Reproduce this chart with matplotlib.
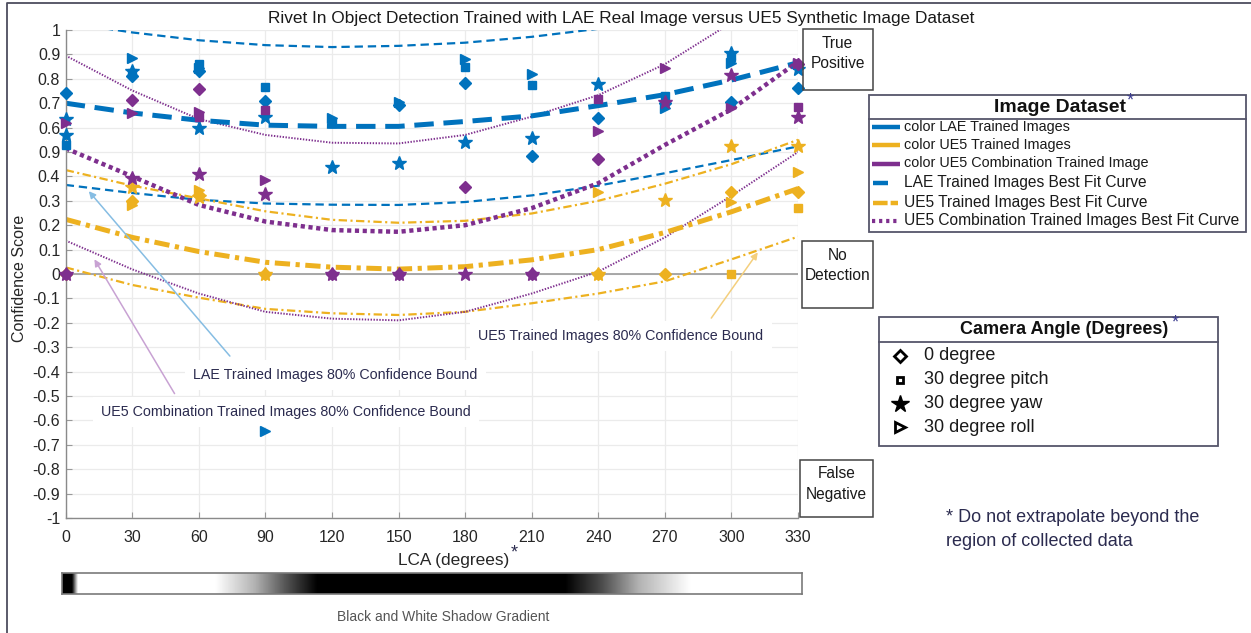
import numpy as np
import matplotlib
matplotlib.use("Agg")
import matplotlib.pyplot as plt
from matplotlib import font_manager
from matplotlib.patches import Rectangle

# ---------------- data ----------------
lca_ticks = [0, 30, 60, 90, 120, 150, 180, 210, 240, 270, 300, 330]
y_ticks = [1, 0.9, 0.8, 0.7, 0.6, 0.5, 0.4, 0.3, 0.2, 0.1, 0,
           -0.1, -0.2, -0.3, -0.4, -0.5, -0.6, -0.7, -0.8, -0.9, -1]
y_tick_labels = ['1', '0.9', '0.8', '0.7', '0.6', '0.9', '0.4', '0.3', '0.2', '0.1', '0',
                 '-0.1', '-0.2', '-0.3', '-0.4', '-0.5', '-0.6', '-0.7', '-0.8', '-0.9', '-1']

# best-fit curves and 80% confidence bounds, read at each LCA tick
fit_x = [0, 30, 60, 90, 120, 150, 180, 210, 240, 270, 300, 330]
lae_fit = [0.70, 0.66, 0.63, 0.61, 0.605, 0.605, 0.625, 0.648, 0.69, 0.735, 0.795, 0.866]
lae_upper = [1.03, 0.99, 0.958, 0.938, 0.93, 0.935, 0.948, 0.972, 1.005, 1.05, 1.11, 1.18]
lae_lower = [0.365, 0.332, 0.304, 0.289, 0.284, 0.283, 0.295, 0.322, 0.362, 0.413, 0.467, 0.523]
ue5_fit = [0.224, 0.15, 0.092, 0.048, 0.028, 0.02, 0.03, 0.058, 0.10, 0.17, 0.255, 0.35]
ue5_upper = [0.426, 0.362, 0.31, 0.257, 0.222, 0.21, 0.218, 0.248, 0.30, 0.37, 0.45, 0.55]
ue5_lower = [0.027, -0.045, -0.097, -0.143, -0.161, -0.168, -0.155, -0.12, -0.08, -0.03, 0.06, 0.153]
combo_fit = [0.515, 0.40, 0.283, 0.215, 0.18, 0.173, 0.20, 0.27, 0.372, 0.529, 0.675, 0.87]
combo_upper = [0.895, 0.752, 0.635, 0.57, 0.538, 0.535, 0.57, 0.645, 0.733, 0.86, 1.03, 1.22]
combo_lower = [0.137, 0.019, -0.08, -0.155, -0.183, -0.19, -0.155, -0.08, 0.01, 0.15, 0.32, 0.50]

# measured confidence scores: LAE trained images
lae_diamond_x = [0, 30, 60, 90, 150, 180, 210, 240, 270, 300, 330]
lae_diamond_y = [0.74, 0.81, 0.833, 0.708, 0.693, 0.784, 0.485, 0.638, 0.70, 0.706, 0.761]
lae_square_x = [0, 30, 60, 90, 120, 180, 210, 270, 300]
lae_square_y = [0.53, 0.825, 0.86, 0.765, 0.617, 0.85, 0.775, 0.73, 0.89]
lae_star_x = [0, 0, 30, 60, 90, 120, 150, 180, 210, 240, 300, 330]
lae_star_y = [0.634, 0.57, 0.833, 0.597, 0.642, 0.44, 0.454, 0.54, 0.559, 0.78, 0.905, 0.839]
lae_tri_x = [30, 60, 90, 120, 150, 180, 210, 270, 300, 330]
lae_tri_y = [0.886, 0.846, -0.645, 0.638, 0.706, 0.881, 0.818, 0.679, 0.866, 0.86]

# UE5 trained images
ue5_diamond_x = [0, 30, 60, 90, 240, 270, 300, 330]
ue5_diamond_y = [0, 0.30, 0.325, 0, 0, 0, 0.337, 0.337]
ue5_square_x = [300, 330]
ue5_square_y = [0, 0.27]
ue5_star_x = [30, 60, 90, 240, 270, 300, 330]
ue5_star_y = [0.358, 0.317, 0, 0, 0.303, 0.525, 0.525]
ue5_tri_x = [30, 60, 240, 300, 330]
ue5_tri_y = [0.283, 0.344, 0.337, 0.296, 0.42]

# UE5 combination trained images
combo_diamond_x = [0, 30, 60, 120, 150, 180, 210, 240, 330]
combo_diamond_y = [0, 0.713, 0.758, 0, 0, 0.355, 0, 0.47, 0.86]
combo_square_x = [60, 90, 240, 330]
combo_square_y = [0.645, 0.672, 0.716, 0.686]
combo_star_x = [0, 30, 60, 90, 120, 150, 180, 210, 270, 300, 330]
combo_star_y = [0, 0.392, 0.41, 0.328, 0, 0, 0, 0, 0.706, 0.816, 0.645]
combo_tri_x = [0, 30, 60, 90, 240, 270, 300, 330]
combo_tri_y = [0.62, 0.66, 0.665, 0.385, 0.586, 0.843, 0.68, 0.866]

dataset_labels = ['color LAE Trained Images', 'color UE5 Trained Images',
                  'color UE5 Combination Trained Image',
                  'LAE Trained Images Best Fit Curve', 'UE5 Trained Images Best Fit Curve',
                  'UE5 Combination Trained Images Best Fit Curve']
angle_labels = ['0 degree', '30 degree pitch', '30 degree yaw', '30 degree roll']

# ---------------- style ----------------
BLUE = '#0072BD'
ORANGE = '#EDB120'
PURPLE = '#7E2F8E'
NAVY = '#2b2b4f'
plt.rcParams['font.family'] = ['Liberation Sans', 'DejaVu Sans']
plt.rcParams['lines.scale_dashes'] = False

names = {f.name for f in font_manager.fontManager.ttflist}
narrow = 'Liberation Sans Narrow' if 'Liberation Sans Narrow' in names else 'Liberation Sans'

W, H = 1251, 633
fig = plt.figure(figsize=(W / 100, H / 100), dpi=100)
fig.patch.set_facecolor('white')

def fx(px):
    return px / W

def fy(py):
    return 1 - py / H

ax_l, ax_r, ax_t, ax_b = 65.7, 798, 30, 518
ax = fig.add_axes([fx(ax_l), fy(ax_b), fx(ax_r) - fx(ax_l), fy(ax_t) - fy(ax_b)])
ax.set_xlim(0, 330)
ax.set_ylim(-1, 1)
ax.set_xticks(lca_ticks)
ax.set_yticks(y_ticks)
ax.set_yticklabels(y_tick_labels)
ax.tick_params(direction='in', length=4, color='#999999', labelsize=11.5, labelcolor='#262626')
ax.tick_params(axis='x', pad=9)
ax.tick_params(axis='y', pad=4)
ax.grid(True, color='#ebebeb', lw=0.9)
ax.set_axisbelow(True)
for s in ['top', 'right']:
    ax.spines[s].set_visible(False)
for s in ['left', 'bottom']:
    ax.spines[s].set_color('#8a8a8a')
    ax.spines[s].set_linewidth(1.0)

# zero line
ax.axhline(0, color='#9a9a9a', lw=1.2, zorder=1)

# bounds (thin)
ax.plot(fit_x, lae_upper, color=BLUE, lw=1.6, dashes=(6, 3.5), zorder=2)
ax.plot(fit_x, lae_lower, color=BLUE, lw=1.6, dashes=(6, 3.5), zorder=2)
ax.plot(fit_x, ue5_upper, color=ORANGE, lw=1.6, dashes=(6, 2.5, 1.5, 2.5), zorder=2)
ax.plot(fit_x, ue5_lower, color=ORANGE, lw=1.6, dashes=(6, 2.5, 1.5, 2.5), zorder=2)
ax.plot(fit_x, combo_upper, color=PURPLE, lw=1.4, dashes=(1.0, 1.1), zorder=2)
ax.plot(fit_x, combo_lower, color=PURPLE, lw=1.4, dashes=(1.0, 1.1), zorder=2)

# best fits (thick)
ax.plot(fit_x, lae_fit, color=BLUE, lw=3.6, dashes=(14, 7), zorder=2.2)
ax.plot(fit_x, ue5_fit, color=ORANGE, lw=3.6, dashes=(11, 4, 3, 4), zorder=2.2)
ax.plot(fit_x, combo_fit, color=PURPLE, lw=3.2, dashes=(3, 2.6), zorder=2.2)

# markers
def pts(x, y, color, m, ms):
    ax.plot(x, y, linestyle='none', marker=m, ms=ms, color=color, mec=color, zorder=4,
            clip_on=False)

for color, d, s, st, t in [
        (BLUE, (lae_diamond_x, lae_diamond_y), (lae_square_x, lae_square_y),
         (lae_star_x, lae_star_y), (lae_tri_x, lae_tri_y)),
        (ORANGE, (ue5_diamond_x, ue5_diamond_y), (ue5_square_x, ue5_square_y),
         (ue5_star_x, ue5_star_y), (ue5_tri_x, ue5_tri_y)),
        (PURPLE, (combo_diamond_x, combo_diamond_y), (combo_square_x, combo_square_y),
         (combo_star_x, combo_star_y), (combo_tri_x, combo_tri_y))]:
    pts(*s, color, 's', 5.5)
    pts(*t, color, '>', 7.5)
    pts(*d, color, 'D', 6.5)
    pts(*st, color, '*', 10)

# annotations
tfont = dict(fontsize=10.3, color=NAVY, zorder=3.5,
             bbox=dict(facecolor='white', edgecolor='none', pad=6))
ax.text(57.4, -0.414, 'LAE Trained Images 80% Confidence Bound', va='center', ha='left', **tfont)
ax.text(15.9, -0.566, 'UE5 Combination Trained Images 80% Confidence Bound', va='center', ha='left', **tfont)
ax.text(185.9, -0.254, 'UE5 Trained Images 80% Confidence Bound', va='center', ha='left', **tfont)
ax.annotate('', xy=(9.6, 0.348), xytext=(74.8, -0.345),
            arrowprops=dict(arrowstyle='-|>', color='#86bde3', lw=1.1, mutation_scale=10), zorder=3.6)
ax.annotate('', xy=(12.3, 0.07), xytext=(49.7, -0.5),
            arrowprops=dict(arrowstyle='-|>', color='#c8a2d3', lw=1.1, mutation_scale=10), zorder=3.6)
ax.annotate('', xy=(312.6, 0.098), xytext=(290.2, -0.19),
            arrowprops=dict(arrowstyle='-|>', color='#f4cf7d', lw=1.1, mutation_scale=10), zorder=3.6)

# gradient bar
gx0, gx1, gy0, gy1 = 62, 802, 573, 594
gax = fig.add_axes([fx(gx0), fy(gy1), fx(gx1) - fx(gx0), fy(gy0) - fy(gy1)])
stops_pos = [0, 0.013, 0.021, 0.207, 0.26, 0.30, 0.345, 0.68, 0.73, 0.78, 0.85, 1.0]
stops_val = [0, 0.0, 1.0, 1.0, 0.7, 0.35, 0.0, 0.0, 0.3, 0.7, 1.0, 1.0]
grad = np.interp(np.linspace(0, 1, 800), stops_pos, stops_val)
gax.imshow(grad[None, :], aspect='auto', cmap='gray', vmin=0, vmax=1, interpolation='bilinear')
gax.set_xticks([])
gax.set_yticks([])
for s in gax.spines.values():
    s.set_color('#7a7a7a')
    s.set_linewidth(1.2)

# overlay for layout items
ov = fig.add_axes([0, 0, 1, 1], zorder=10)
ov.set_xlim(0, W)
ov.set_ylim(H, 0)
ov.axis('off')
ov.patch.set_alpha(0)

# figure border (left & top)
ov.plot([7, 7, W], [H, 3, 3], color='#4d4d5e', lw=1.3)

# title and labels
ov.text(621, 18, 'Rivet In Object Detection Trained with LAE Real Image versus UE5 Synthetic Image Dataset',
        ha='center', va='center', fontsize=12.4, color='#1a1a1a')
ov.text(20, 278, 'Confidence Score', rotation=90, ha='center', va='center', fontsize=11.5, color='#262626')
ov.text(454, 560, 'LCA (degrees)', ha='center', va='center', fontsize=12.4, color='#262626')
ov.text(514, 553, '*', ha='center', va='center', fontsize=13, color=NAVY)
ov.text(443, 617, 'Black and White Shadow Gradient', ha='center', va='center', fontsize=10,
        color='#555555', family=narrow)

# outcome boxes
for (x0, y0, x1, y1, l1, l2, t1, t2) in [
        (803, 29, 872.5, 90, 'True', 'Positive', 44, 63.5),
        (802, 241, 873, 307.5, 'No', 'Detection', 255, 275),
        (800, 460, 872.5, 517, 'False', 'Negative', 474, 494)]:
    ov.add_patch(Rectangle((x0, y0), x1 - x0, y1 - y0, fill=False, ec='#444444', lw=1.1))
    cx = (x0 + x1) / 2
    ov.text(cx, t1, l1, ha='center', va='center', fontsize=11.2, color='#1a1a1a')
    ov.text(cx, t2, l2, ha='center', va='center', fontsize=11.2, color='#1a1a1a')

# Image Dataset legend
lx0, lx1, ly0, ly1, lyh = 869, 1246, 95, 232, 119
ov.add_patch(Rectangle((lx0, ly0), lx1 - lx0, ly1 - ly0, fill=False, ec='#55556a', lw=1.3))
ov.plot([lx0, lx1], [lyh, lyh], color='#55556a', lw=1.3)
ov.text(1060, 107, 'Image Dataset', ha='center', va='center', fontsize=14, fontweight='bold', color='#111111')
ov.text(1130, 101, '*', ha='center', va='center', fontsize=13, color='#3b3b8f')
ent_y = [127, 145, 163.5, 182.5, 202.5, 221]
for yy, c in zip(ent_y[:3], [BLUE, ORANGE, PURPLE]):
    ov.plot([871.5, 900], [yy, yy], color=c, lw=3.2, solid_capstyle='butt')
ov.plot([873, 888], [ent_y[3], ent_y[3]], color=BLUE, lw=3.2, solid_capstyle='butt')
ov.plot([873, 898], [ent_y[4], ent_y[4]], color=ORANGE, lw=3.2, dashes=(10.5, 2.2))
ov.plot([872, 900], [ent_y[5], ent_y[5]], color=PURPLE, lw=3.0, dashes=(2.3, 2.8))
for i, (yy, lab) in enumerate(zip(ent_y, dataset_labels)):
    ov.text(903.5, yy, lab, ha='left', va='center', fontsize=10.4 if i < 3 else 11.2, color='#1a1a1a')

# Camera Angle legend
cx0, cx1, cy0, cy1, cyh = 879, 1218, 317, 446, 341.5
ov.add_patch(Rectangle((cx0, cy0), cx1 - cx0, cy1 - cy0, fill=False, ec='#55556a', lw=1.3))
ov.plot([cx0, cx1], [cyh, cyh], color='#55556a', lw=1.3)
ov.text(1064, 329.5, 'Camera Angle (Degrees)', ha='center', va='center', fontsize=13,
        fontweight='bold', color='#111111')
ov.text(1175, 323, '*', ha='center', va='center', fontsize=13, color='#3b3b8f')
cam_y = [356, 380, 403.5, 427]
ov.plot([900], [cam_y[0]], marker='D', ms=6, mfc='white', mec='black', mew=2, ls='none')
ov.plot([900], [cam_y[1]], marker='s', ms=5, mfc='white', mec='black', mew=2, ls='none')
ov.plot([900], [cam_y[2]], marker='*', ms=13, color='black', ls='none')
ov.plot([900], [cam_y[3]], marker='>', ms=7, mfc='white', mec='black', mew=2, ls='none')
for yy, lab in zip(cam_y, angle_labels):
    ov.text(923.5, yy, lab, ha='left', va='center', fontsize=13, color='#1a1a1a')

# footnote
ov.text(946, 518, '* Do not extrapolate beyond the', ha='left', va='center', fontsize=13, color=NAVY)
ov.text(946, 541, 'region of collected data', ha='left', va='center', fontsize=13, color=NAVY)

fig.savefig('out.png', dpi=100, facecolor='white')
